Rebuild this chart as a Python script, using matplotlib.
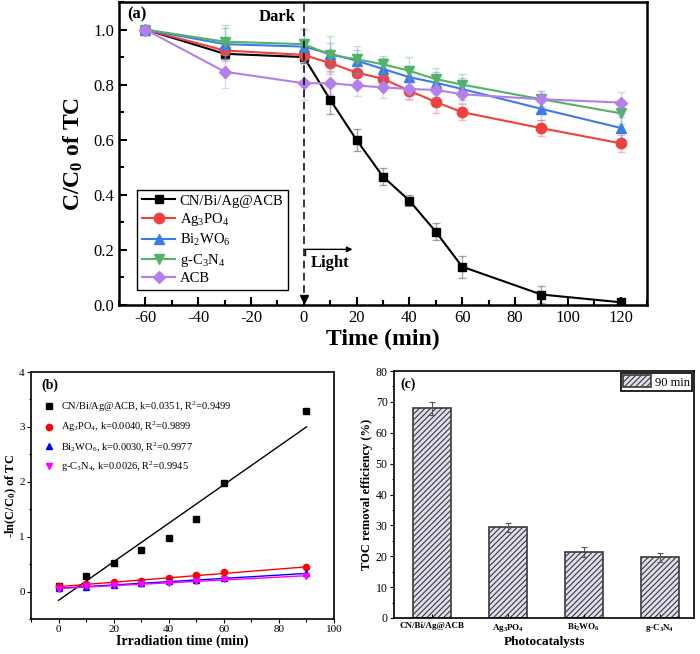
import numpy as np
import matplotlib
matplotlib.use('Agg')
import matplotlib.pyplot as plt
from matplotlib.ticker import MultipleLocator, FormatStrFormatter

plt.rcParams['font.family'] = ['Liberation Serif', 'DejaVu Serif']
plt.rcParams['mathtext.fontset'] = 'custom'
plt.rcParams['mathtext.rm'] = 'Liberation Serif'
plt.rcParams['mathtext.it'] = 'Liberation Serif:italic'
plt.rcParams['mathtext.bf'] = 'Liberation Serif:bold'
plt.rcParams['axes.unicode_minus'] = False
plt.rcParams['hatch.linewidth'] = 0.8

# ---- (a) C/C0 vs time ----
t = [-60, -30, 0, 10, 20, 30, 40, 50, 60, 90, 120]
names_a = ['CN/Bi/Ag@ACB', 'Ag$_3$PO$_4$', 'Bi$_2$WO$_6$', 'g-C$_3$N$_4$', 'ACB']
cn = [1.0, 0.912, 0.90, 0.745, 0.599, 0.466, 0.379, 0.266, 0.139, 0.038, 0.010]
ag = [1.0, 0.924, 0.908, 0.878, 0.844, 0.821, 0.778, 0.737, 0.700, 0.642, 0.587]
bi = [1.0, 0.947, 0.938, 0.912, 0.887, 0.857, 0.827, 0.807, 0.784, 0.712, 0.643]
gcn = [1.0, 0.956, 0.947, 0.908, 0.892, 0.874, 0.850, 0.820, 0.800, 0.747, 0.696]
acb = [1.0, 0.847, 0.805, 0.805, 0.797, 0.790, 0.784, 0.781, 0.765, 0.747, 0.735]
err_cn = [0, 0.02, 0.02, 0.05, 0.04, 0.03, 0.02, 0.03, 0.04, 0.03, 0.015]
err_ag = [0, 0.03, 0.03, 0.03, 0.03, 0.03, 0.03, 0.04, 0.03, 0.03, 0.03]
err_bi = [0, 0.06, 0.06, 0.04, 0.04, 0.04, 0.04, 0.04, 0.04, 0.04, 0.04]
err_g = [0, 0.06, 0.06, 0.07, 0.05, 0.03, 0.05, 0.04, 0.04, 0.03, 0.04]
err_acb = [0, 0.06, 0.06, 0.04, 0.04, 0.04, 0.04, 0.03, 0.03, 0.03, 0.04]

# ---- (b) kinetics ----
tb = [0, 10, 20, 30, 40, 50, 60, 90]
ln_cn = [0.10, 0.29, 0.52, 0.76, 0.98, 1.32, 1.97, 3.29]
ln_ag = [0.097, 0.13, 0.17, 0.20, 0.25, 0.305, 0.357, 0.443]
ln_bi = [0.064, 0.092, 0.12, 0.154, 0.19, 0.214, 0.243, 0.34]
ln_g = [0.054, 0.097, 0.114, 0.135, 0.163, 0.198, 0.223, 0.29]
k_vals = [0.0351, 0.0040, 0.0030, 0.0026]
intercepts = [-0.16, 0.09, 0.06, 0.055]
r2_vals = ['0.9499', '0.9899', '0.9977', '0.9945']
names_b = ['CN/Bi/Ag@ACB', 'Ag$_3$PO$_4$', 'Bi$_2$WO$_6$', 'g-C$_3$N$_4$']

# ---- (c) TOC removal ----
cats_c = ['CN/Bi/Ag@ACB', 'Ag$_\\mathbf{3}$PO$_\\mathbf{4}$',
          'Bi$_\\mathbf{2}$WO$_\\mathbf{6}$', 'g-C$_\\mathbf{3}$N$_\\mathbf{4}$']
toc = [67.9, 29.4, 21.5, 19.6]
toc_err = [2.0, 1.5, 1.6, 1.4]

W, H = 700, 654
fig = plt.figure(figsize=(7, 6.54), dpi=100)

# ================= panel (a) =================
ax = fig.add_axes([119/W, 1-305/H, 528/W, 303/H])
cols_a = ['#000000', '#F0413E', '#3C7BE8', '#52B26B', '#B37FE8']
marks_a = ['s', 'o', '^', 'v', 'D']
msz = [6, 7.5, 7.5, 7.5, 6.5]
for y, e, c, m, s, lab in zip([cn, ag, bi, gcn, acb],
                              [err_cn, err_ag, err_bi, err_g, err_acb],
                              cols_a, marks_a, msz, names_a):
    ax.errorbar(t, y, yerr=e, fmt='none', ecolor=c, alpha=0.35,
                capsize=3, elinewidth=1, capthick=1)
    ax.plot(t, y, color=c, marker=m, markersize=s, lw=1.5, label=lab)

ax.set_xlim(-70, 130)
ax.set_ylim(0, 1.1)
ax.xaxis.set_major_locator(MultipleLocator(20))
ax.xaxis.set_minor_locator(MultipleLocator(10))
ax.yaxis.set_major_locator(MultipleLocator(0.2))
ax.yaxis.set_minor_locator(MultipleLocator(0.1))
ax.tick_params(which='both', direction='in', labelsize=12, width=1.5)
ax.tick_params(which='major', length=6)
ax.tick_params(which='minor', length=3.5)
ax.yaxis.set_major_formatter(FormatStrFormatter('%.1f'))
for sp in ax.spines.values():
    sp.set_linewidth(1.8)
ax.set_xlabel('Time (min)', fontsize=17, fontweight='bold', labelpad=2)
ax.set_ylabel('C/C$_\\mathbf{0}$ of TC', fontsize=17, fontweight='bold', labelpad=6)

# dark / light markers
ax.axvline(0, color='k', ls=(0, (5, 3)), lw=1.1)
ax.plot(0, 0.022, marker='v', color='k', markersize=6, clip_on=False)
ax.annotate('', xy=(19.5, 0.202), xytext=(0, 0.202),
            arrowprops=dict(arrowstyle='-|>', color='k', lw=1, mutation_scale=8))
ax.plot([0.6, 0.6], [0.202, 0.18], color='k', lw=1)
ax.text(-10, 1.047, 'Dark', fontsize=12, fontweight='bold', ha='center', va='center')
ax.text(2.5, 0.153, 'Light', fontsize=12, fontweight='bold', ha='left', va='center')
ax.text(0.015, 0.985, '(a)', transform=ax.transAxes, fontsize=12,
        fontweight='bold', ha='left', va='top')

leg = ax.legend(loc='lower left', bbox_to_anchor=(0.035, 0.05), fontsize=10.5,
                fancybox=False, edgecolor='k', framealpha=1, handlelength=2.3,
                labelspacing=0.25, borderpad=0.3, handletextpad=0.3,
                borderaxespad=0)
leg.get_frame().set_linewidth(1)

# ================= panel (b) =================
bx = fig.add_axes([31/W, 1-619/H, 303/W, 247/H])
cols_b = ['#000000', '#FF0000', '#0000FF', '#FF00FF']
marks_b = ['s', 'o', '^', 'v']
for y, k, b0, r2, c, m, lab in zip([ln_cn, ln_ag, ln_bi, ln_g], k_vals, intercepts,
                                   r2_vals, cols_b, marks_b, names_b):
    bx.plot(tb, y, ls='none', marker=m, color=c, markersize=4.5,
            label=f'{lab}, k={k:.4f}, R$^2$={r2}')
    xf = np.array([tb[0], tb[-1]])
    bx.plot(xf, b0 + k * xf, color=c, lw=1)
bx.set_xlim(-10, 100)
bx.set_ylim(-0.5, 4)
bx.xaxis.set_major_locator(MultipleLocator(20))
bx.xaxis.set_minor_locator(MultipleLocator(10))
bx.yaxis.set_major_locator(MultipleLocator(1))
bx.yaxis.set_minor_locator(MultipleLocator(0.5))
bx.tick_params(which='both', direction='out', labelsize=8, width=0.8, pad=1.5)
bx.tick_params(which='major', length=3)
bx.tick_params(which='minor', length=1.8)
for sp in bx.spines.values():
    sp.set_linewidth(1.2)
bx.set_xlabel('Irradiation time (min)', fontsize=10, fontweight='bold', labelpad=0)
bx.set_ylabel('-ln(C/C$_\\mathbf{0}$) of TC', fontsize=9, fontweight='bold', labelpad=0)
bx.text(0.035, 0.975, '(b)', transform=bx.transAxes, fontsize=10,
        fontweight='bold', ha='left', va='top')
bx.legend(loc='upper left', bbox_to_anchor=(0.03, 0.905), frameon=False,
          fontsize=7.5, handlelength=1, handletextpad=0.6, labelspacing=0.55,
          borderaxespad=0)

# ================= panel (c) =================
cx = fig.add_axes([394/W, 1-618/H, 300/W, 247/H])
xc = np.arange(len(toc))
cx.bar(xc, toc, width=0.5, color='#DEDEEE', edgecolor='#3a3a3a', hatch='//////',
       lw=1.2, label='90 min')
cx.errorbar(xc, toc, yerr=toc_err, fmt='none', ecolor='#555555', capsize=2.5,
            elinewidth=0.8, capthick=0.8)
cx.set_xlim(-0.5, 3.45)
cx.set_ylim(0, 80)
cx.set_xticks(xc)
cx.set_xticklabels(cats_c, fontsize=6.5, fontweight='bold')
cx.yaxis.set_major_locator(MultipleLocator(10))
cx.yaxis.set_minor_locator(MultipleLocator(5))
cx.tick_params(axis='y', which='both', direction='out', labelsize=8.5, width=0.8, pad=1.5)
cx.tick_params(axis='y', which='major', length=3)
cx.tick_params(axis='y', which='minor', length=1.8)
cx.tick_params(axis='x', direction='in', length=3, width=0.8, pad=3)
for sp in cx.spines.values():
    sp.set_linewidth(1.2)
cx.set_xlabel('Photocatalysts', fontsize=9.5, fontweight='bold', labelpad=1)
cx.set_ylabel('TOC removal efficiency (%)', fontsize=9, fontweight='bold', labelpad=2)
cx.text(0.02, 0.975, '(c)', transform=cx.transAxes, fontsize=10,
        fontweight='bold', ha='left', va='top')
lc = cx.legend(loc='upper right', fontsize=9, fancybox=False, edgecolor='k',
               framealpha=1, handlelength=2.2, handleheight=1.1, borderpad=0.2,
               handletextpad=0.3, borderaxespad=0.15)
lc.get_frame().set_linewidth(1.2)

fig.savefig('out.png', dpi=100)
